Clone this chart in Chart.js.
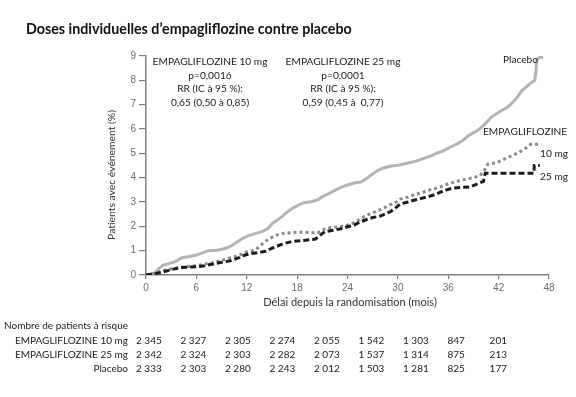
<!DOCTYPE html>
<html>
<head>
<meta charset="utf-8">
<script src="https://cdn.jsdelivr.net/npm/chart.js@4"></script>
<style>
html,body{margin:0;padding:0;background:#fff;}
#c{display:block;}
</style>
</head>
<body>
<canvas id="c" width="576" height="397"></canvas>
<script>
// ---- Data ----
const xTicks = [0, 6, 12, 18, 24, 30, 36, 42, 48];

const placeboMonths = [0,1,1.5,2,2.8,3.5,4.2,5,6,6.8,7.5,8.5,9.5,10.2,10.8,11.5,12.2,13,13.8,14.5,15,15.6,16.2,16.8,17.5,18.2,18.8,19.8,20.5,21,21.8,22.5,23.2,24,24.8,25.6,26.2,26.8,27.5,28.3,29.2,30.2,31.2,32.2,33,33.8,34.6,35.4,36.2,37,37.8,38.5,39.2,39.8,40.5,41,41.6,42.3,43,43.7,44.2,44.7,45.2,45.8,46.3,46.45,46.55,46.9,47.3];
const placeboPct    = [0,0.08,0.25,0.4,0.48,0.55,0.7,0.75,0.82,0.92,1.0,1.02,1.1,1.2,1.35,1.5,1.62,1.7,1.78,1.9,2.1,2.25,2.4,2.58,2.75,2.88,2.97,3.02,3.1,3.22,3.35,3.48,3.6,3.7,3.78,3.82,3.95,4.1,4.28,4.4,4.48,4.52,4.6,4.68,4.78,4.88,5.0,5.1,5.25,5.38,5.55,5.75,5.88,6.02,6.25,6.45,6.6,6.75,6.88,7.1,7.3,7.55,7.7,7.88,8.0,8.4,8.85,8.95,8.95];

const empa10Months = [0,1,2,3,4,5,6,7,8,9,10,11,12,13,13.6,14.2,15,15.6,16.5,18,19.5,20.4,21.2,22,23.5,24.5,25.3,26,26.7,27.5,28.3,29,29.8,30.3,31.2,32,32.8,33.6,34.4,35.2,36,37,38,39,39.8,40.3,40.7,41.8,42.6,43.4,44.2,44.8,45.4,45.8,47.1];
const empa10Pct    = [0,0.05,0.18,0.25,0.3,0.35,0.38,0.45,0.5,0.6,0.7,0.8,0.95,1.02,1.2,1.38,1.55,1.65,1.72,1.76,1.75,1.72,1.88,1.95,2.0,2.1,2.25,2.4,2.52,2.62,2.75,2.87,3.0,3.12,3.2,3.3,3.38,3.48,3.55,3.64,3.75,3.85,3.93,4.0,4.08,4.3,4.55,4.62,4.75,4.88,5.0,5.12,5.25,5.37,5.37];

const empa25Months = [0,1,2,3,4,5,6,7,8,9,10,11,11.8,12.5,13.5,14.3,15,15.6,16.3,17.2,18,19,20.2,20.8,21.3,22.3,23.2,24,24.8,25.5,26.3,27,27.9,28.6,29.2,29.8,30.3,31.2,32,32.8,33.6,34.4,35,35.8,36.5,37.5,38.6,39.5,40.2,40.4,46.2,46.25,46.9];
const empa25Pct    = [0,0.05,0.12,0.22,0.3,0.32,0.34,0.38,0.45,0.52,0.58,0.7,0.82,0.88,0.93,0.98,1.1,1.18,1.28,1.36,1.4,1.43,1.48,1.65,1.78,1.84,1.9,1.98,2.05,2.18,2.28,2.36,2.42,2.52,2.62,2.78,2.92,3.0,3.08,3.15,3.22,3.3,3.4,3.5,3.57,3.6,3.62,3.75,3.85,4.18,4.18,4.5,4.5];

const riskLabels = ["EMPAGLIFLOZINE 10 mg", "EMPAGLIFLOZINE 25 mg", "Placebo"];
const risk10  = [2345, 2327, 2305, 2274, 2055, 1542, 1303, 847, 201];
const risk25  = [2342, 2324, 2303, 2282, 2073, 1537, 1314, 875, 213];
const riskPbo = [2333, 2303, 2280, 2243, 2012, 1503, 1281, 825, 177];

const titleText = "Doses individuelles d\u2019empagliflozine contre placebo";
const yTitle = "Patients avec \u00e9v\u00e9nement (%)";
const xTitle = "D\u00e9lai depuis la randomisation (mois)";
const riskHeader = "Nombre de patients \u00e0 risque";
const note10 = ["EMPAGLIFLOZINE 10 mg", "p=0,0016", "RR (IC \u00e0 95 %):", "0,65 (0,50 \u00e0 0,85)"];
const note25 = ["EMPAGLIFLOZINE 25 mg", "p=0,0001", "RR (IC \u00e0 95 %):", "0,59 (0,45 \u00e0  0,77)"];

// ---- helpers ----
const FAM = "Lato, 'Open Sans', sans-serif";
const mctx = document.createElement('canvas').getContext('2d');
function fitSize(text, target, weight) {
  mctx.font = (weight || '') + ' 100px ' + FAM;
  return 100 * target / mctx.measureText(text).width;
}
function pts(xs, ys) { return xs.map((x, i) => ({x: x, y: ys[i]})); }
function fmt(n) { return String(n).replace(/\B(?=(\d{3})+(?!\d))/g, ' '); }

const sTitle = fitSize(titleText, 326, 'bold');
const sNote = fitSize(note10[0], 115);
const sTable = fitSize(riskHeader, 124);
const sY = fitSize(yTitle, 130);
const sX = fitSize(xTitle, 174);

const textPlugin = {
  id: 'texts',
  afterDraw(chart) {
    const ctx = chart.ctx;
    ctx.save();
    ctx.fillStyle = '#111';
    ctx.textBaseline = 'middle';
    // title
    ctx.font = 'bold ' + sTitle + 'px ' + FAM;
    ctx.textAlign = 'left';
    ctx.fillText(titleText, 26, 29);
    // notes
    ctx.fillStyle = '#222';
    ctx.font = sNote + 'px ' + FAM;
    ctx.textAlign = 'center';
    note10.forEach((t, i) => ctx.fillText(t, 210, 62 + i * 13.5));
    note25.forEach((t, i) => ctx.fillText(t, 343, 62 + i * 13.5));
    ctx.textAlign = 'right';
    ctx.fillText('Placebo', 538, 60);
    ctx.textAlign = 'center';
    ctx.fillText('EMPAGLIFLOZINE', 525, 132);
    ctx.textAlign = 'left';
    ctx.fillText('10 mg', 540, 154);
    ctx.fillText('25 mg', 540, 177);
    // axis titles
    ctx.fillStyle = '#333';
    ctx.font = sX + 'px ' + FAM;
    ctx.textAlign = 'center';
    ctx.fillText(xTitle, 350, 302);
    ctx.save();
    ctx.translate(112, 175);
    ctx.rotate(-Math.PI / 2);
    ctx.font = sY + 'px ' + FAM;
    ctx.fillText(yTitle, 0, 0);
    ctx.restore();
    // risk table
    ctx.fillStyle = '#222';
    ctx.font = sTable + 'px ' + FAM;
    ctx.textAlign = 'left';
    ctx.fillText(riskHeader, 4, 326);
    const rows = [risk10, risk25, riskPbo];
    rows.forEach((row, r) => {
      const y = 341 + r * 14;
      ctx.textAlign = 'right';
      ctx.fillText(riskLabels[r], 128, y);
      row.forEach((v, i) => {
        const s = fmt(v);
        if (i === row.length - 1) { ctx.textAlign = 'right'; ctx.fillText(s, 507, y); }
        else { ctx.textAlign = 'left'; ctx.fillText(s, 136 + i * 44.5, y); }
      });
    });
    ctx.restore();
  }
};

const axisColor = '#7f7f7f';
new Chart(document.getElementById('c'), {
  type: 'line',
  data: {
    datasets: [
      { label: 'Placebo', data: pts(placeboMonths, placeboPct),
        borderColor: '#b4b4b4', borderWidth: 3, pointRadius: 0, fill: false, tension: 0, order: 3 },
      { label: 'EMPAGLIFLOZINE 10 mg', data: pts(empa10Months, empa10Pct),
        borderColor: '#8a8a8a', borderWidth: 3, borderDash: [3, 3], pointRadius: 0, fill: false, tension: 0, order: 2 },
      { label: 'EMPAGLIFLOZINE 25 mg', data: pts(empa25Months, empa25Pct),
        borderColor: '#1c1c1c', borderWidth: 3, borderDash: [6, 3], pointRadius: 0, fill: false, tension: 0, order: 1 }
    ]
  },
  options: {
    responsive: false,
    animation: false,
    devicePixelRatio: 1,
    layout: { padding: { top: 56, right: 27, left: 0, bottom: 0 } },
    plugins: { legend: { display: false }, tooltip: { enabled: false }, title: { display: false } },
    scales: {
      x: {
        type: 'linear', min: 0, max: 48,
        afterBuildTicks: (s) => { s.ticks = xTicks.map(v => ({value: v})); },
        afterFit: (s) => { s.height = 122; },
        ticks: { color: '#6e6e6e', font: { family: "'Liberation Sans', Arial, sans-serif", size: 10 }, padding: 3, maxRotation: 0 },
        grid: { drawOnChartArea: false, tickLength: 4, color: axisColor, lineWidth: 1.2 },
        border: { color: axisColor, width: 1.5 }
      },
      y: {
        min: 0, max: 9,
        afterFit: (s) => { s.width = 146; },
        ticks: { stepSize: 1, color: '#6e6e6e', font: { family: "'Liberation Sans', Arial, sans-serif", size: 10 }, padding: 3 },
        grid: { drawOnChartArea: false, tickLength: 7, color: axisColor, lineWidth: 1.2 },
        border: { color: axisColor, width: 1.5 }
      }
    }
  },
  plugins: [textPlugin]
});
</script>
</body>
</html>
